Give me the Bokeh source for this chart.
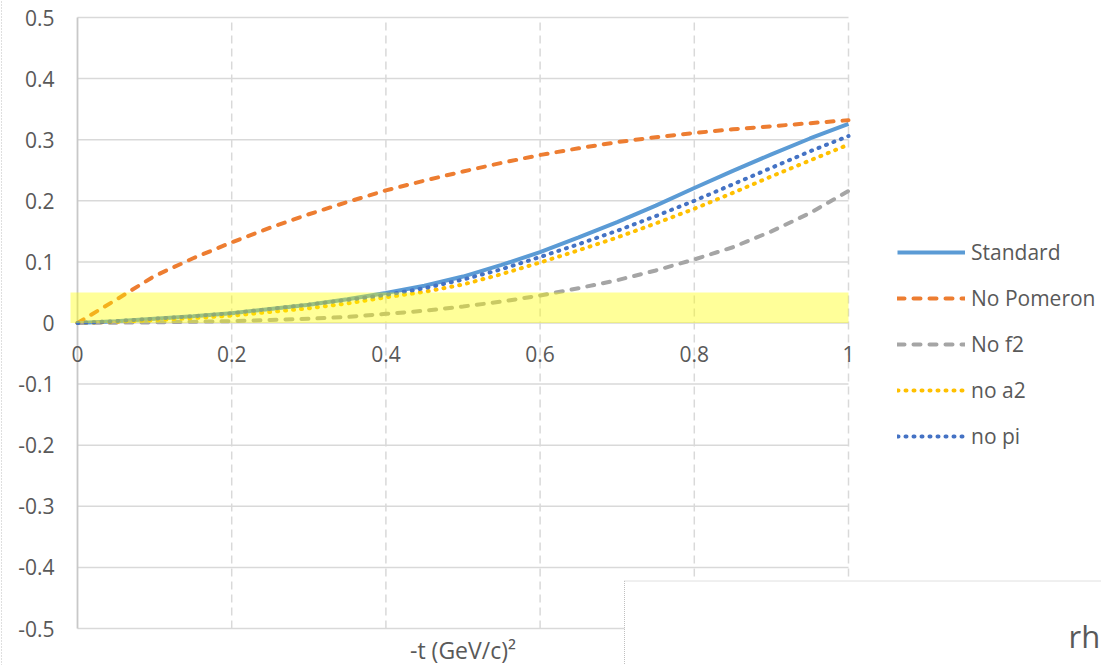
from bokeh.plotting import figure
from bokeh.models import Range1d, Legend, LegendItem, ColumnDataSource
from bokeh.core.properties import value
from bokeh.embed import file_html
from bokeh.resources import INLINE

# ---------------- data ----------------
t_values = [0.00, 0.05, 0.10, 0.15, 0.20, 0.25, 0.30, 0.35, 0.40, 0.45, 0.50,
            0.55, 0.60, 0.65, 0.70, 0.75, 0.80, 0.85, 0.90, 0.95, 1.00]
standard = [0.000, 0.003, 0.007, 0.011, 0.016, 0.023, 0.030, 0.039, 0.049, 0.061, 0.076,
            0.095, 0.116, 0.140, 0.165, 0.192, 0.221, 0.249, 0.276, 0.302, 0.326]
no_pomeron = [0.000, 0.038, 0.077, 0.106, 0.132, 0.156, 0.178, 0.198, 0.217, 0.233, 0.248,
              0.262, 0.275, 0.286, 0.296, 0.304, 0.311, 0.317, 0.322, 0.327, 0.332]
no_f2 = [0.000, 0.0005, 0.001, 0.002, 0.003, 0.005, 0.007, 0.010, 0.015, 0.020, 0.027,
         0.035, 0.045, 0.057, 0.070, 0.086, 0.104, 0.124, 0.150, 0.180, 0.216]
no_a2 = [0.000, 0.002, 0.005, 0.008, 0.012, 0.018, 0.024, 0.032, 0.042, 0.051, 0.063,
         0.080, 0.099, 0.119, 0.140, 0.163, 0.187, 0.213, 0.240, 0.266, 0.292]
no_pi = [0.000, 0.003, 0.007, 0.011, 0.016, 0.023, 0.030, 0.038, 0.046, 0.057, 0.071,
         0.088, 0.108, 0.129, 0.151, 0.175, 0.200, 0.227, 0.254, 0.281, 0.306]

series_names = ["Standard", "No Pomeron", "No f2", "no a2", "no pi"]
series_values = [standard, no_pomeron, no_f2, no_a2, no_pi]

x_ticks = [0.0, 0.2, 0.4, 0.6, 0.8, 1.0]
x_tick_labels = ["0", "0.2", "0.4", "0.6", "0.8", "1"]
y_ticks = [0.5, 0.4, 0.3, 0.2, 0.1, 0.0, -0.1, -0.2, -0.3, -0.4, -0.5]
y_tick_labels = ["0.5", "0.4", "0.3", "0.2", "0.1", "0", "-0.1", "-0.2", "-0.3", "-0.4", "-0.5"]
x_axis_title = "-t (GeV/c)\u00b2"
band_bottom, band_top = 0.0, 0.05
other_chart_title = "rh"

# ---------------- layout ----------------
W, H = 1101, 665
PX_X0, PX_X1 = 77, 848      # screen x of t=0 and t=1
PX_YT, PX_YB = 17, 628      # screen y of 0.5 and -0.5
sx = (PX_X1 - PX_X0) / (x_ticks[-1] - x_ticks[0])
sy = (PX_YB - PX_YT) / (y_ticks[0] - y_ticks[-1])
x_start = x_ticks[0] - PX_X0 / sx
x_end = x_ticks[-1] + (W - PX_X1) / sx
y_end = y_ticks[0] + PX_YT / sy
y_start = y_ticks[-1] - (H - PX_YB) / sy

def px_x(px):
    return x_ticks[0] + (px - PX_X0) / sx

def px_y(py):
    return y_ticks[0] - (py - PX_YT) / sy

FONT = value("Open Sans")
TXT = "#595959"
GRID = "#D9D9D9"

p = figure(width=W, height=H, x_range=Range1d(x_start, x_end), y_range=Range1d(y_start, y_end),
           output_backend="svg", toolbar_location=None, x_axis_type=None, y_axis_type=None,
           min_border=0, min_border_left=0, min_border_right=0, min_border_top=0, min_border_bottom=0)
p.outline_line_color = None
p.background_fill_color = "white"
p.border_fill_color = "white"

x_lo, x_hi = x_ticks[0], x_ticks[-1]
y_lo, y_hi = y_ticks[-1], y_ticks[0]

# outer dotted chart border (left side)
p.segment(x0=[px_x(1)], y0=[y_start], x1=[px_x(1)], y1=[y_end],
          line_color="#BFBFBF", line_width=1, line_dash="1 2")

# grid
p.segment(x0=x_ticks[1:], y0=[y_lo] * 5, x1=x_ticks[1:], y1=[y_hi] * 5,
          line_color=GRID, line_width=1.5, line_dash="8 5")
p.segment(x0=[x_lo] * len(y_ticks), y0=y_ticks, x1=[x_hi] * len(y_ticks), y1=y_ticks,
          line_color=GRID, line_width=1.5)
# vertical axis line at t = 0
p.segment(x0=[x_lo], y0=[y_lo], x1=[x_lo], y1=[y_hi], line_color="#C8C8C8", line_width=1.8)

# tick labels
p.text(x=[x_lo] * len(y_ticks), y=y_ticks, text=y_tick_labels, x_offset=-23,
       text_align="right", text_baseline="middle", text_font=FONT,
       text_font_size="21px", text_color=TXT)
p.text(x=x_ticks, y=[0.0] * len(x_ticks), text=x_tick_labels, y_offset=31,
       text_align="center", text_baseline="middle", text_font=FONT,
       text_font_size="21px", text_color=TXT)
p.text(x=[(x_lo + x_hi) / 2], y=[y_lo], text=[x_axis_title], y_offset=21,
       text_align="center", text_baseline="middle", text_font=FONT,
       text_font_size="23px", text_color=TXT)

# series
styles = [
    dict(line_color="#5B9BD5", line_width=4, line_dash="solid"),
    dict(line_color="#ED7D31", line_width=4, line_dash="7 9", line_cap="round"),
    dict(line_color="#A5A5A5", line_width=4, line_dash="7 9", line_cap="round"),
    dict(line_color="#FFC000", line_width=4, line_dash="1 7", line_cap="round"),
    dict(line_color="#4472C4", line_width=4, line_dash="1 7", line_cap="round"),
]
items = []
for name, vals, st in zip(series_names, series_values, styles):
    src = ColumnDataSource(dict(t=t_values, v=vals))
    r = p.line("t", "v", source=src, **st)
    items.append(LegendItem(label=name, renderers=[r]))

# highlighted band (drawn on top of curves)
p.quad(left=[px_x(70)], right=[x_hi], bottom=[band_bottom], top=[band_top],
       fill_color="#FFFF00", fill_alpha=0.4, line_color=None)

legend = Legend(items=items, location=(897, 215), padding=0, margin=0, spacing=18,
                glyph_width=68, glyph_height=28, label_height=28, label_standoff=6,
                label_text_font="Open Sans", label_text_font_size="21px",
                label_text_color=TXT, border_line_color=None, background_fill_alpha=0)
p.add_layout(legend)

# overlapping neighbouring chart box (bottom right)
p.quad(left=[px_x(624)], right=[px_x(W + 20)], top=[px_y(580.5)], bottom=[px_y(H + 20)],
       fill_color="white", line_color="#C0C0C0", line_width=1, line_dash="1 1")
p.text(x=[px_x(1068)], y=[px_y(635)], text=[other_chart_title], text_align="left",
       text_baseline="alphabetic", text_font=FONT, text_font_size="31px", text_color=TXT)

open("out.html", "w").write(file_html(p, INLINE))
